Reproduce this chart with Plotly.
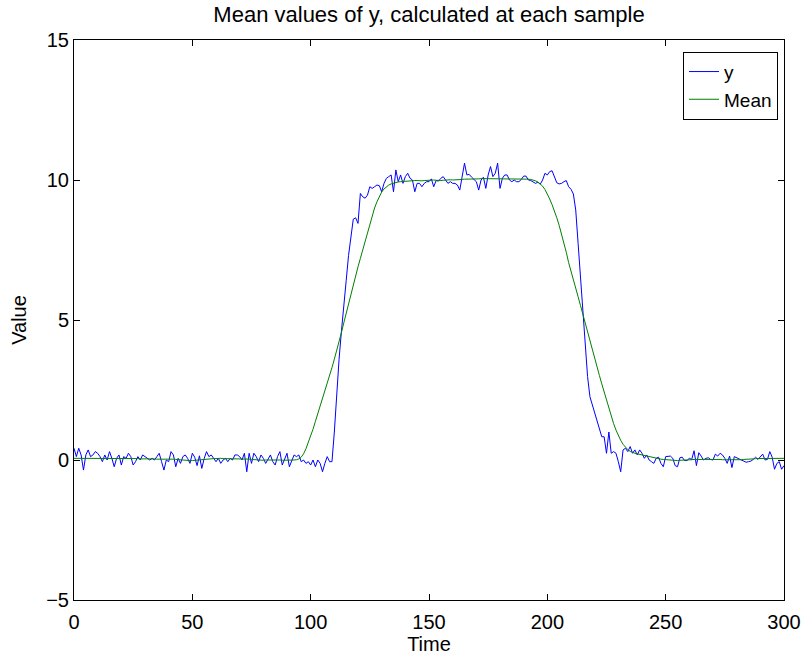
import plotly.graph_objects as go

# ---------------- data ----------------
time = list(range(301))

y_base_left = [
    0.42, 0.12, 0.42, 0.18, -0.36, 0.18, 0.36, 0.12, 0.18, 0.30,
    0.24, 0.12, -0.06, 0.18, 0.00, 0.30, 0.06, -0.24, 0.06, 0.18,
    -0.18, 0.12, 0.06, 0.24, 0.12, -0.18, -0.06, 0.12, 0.00, 0.18,
    0.12, 0.06, 0.00, 0.06, 0.00, 0.12, 0.24, -0.06, -0.36, 0.00,
    -0.06, 0.30, 0.18, -0.24, 0.06, -0.12, 0.12, 0.18, 0.06, -0.12,
    0.24, 0.10, -0.20, 0.15, -0.30, 0.05, 0.30, 0.12, 0.18, 0.06,
    -0.06, 0.06, -0.12, 0.00, 0.06, -0.06, 0.06, 0.00, 0.18, 0.18,
    0.12, 0.00, 0.24, -0.42, 0.24, -0.12, 0.24, 0.12, -0.06, 0.18,
    0.06, -0.12, 0.06, 0.18, -0.06, -0.18, 0.12, 0.30, -0.18, 0.00,
    0.24, -0.24, -0.06, 0.18, 0.12, 0.18, -0.06, 0.00, -0.12, -0.06,
    -0.18, 0.00, -0.24, 0.00, -0.12, -0.42, -0.12, 0.12, -0.06, -0.06,
]
y_rise = [1.0, 2.4, 3.6, 4.6, 5.4, 6.4, 7.3, 7.9, 8.6, 8.65, 8.45, 9.52, 9.4, 9.35, 9.46, 9.76]
y_top_a = [9.7, 9.76, 9.82, 9.8, 9.58, 9.88, 10.06, 10.12, 10.18, 9.58,
           10.36, 9.94, 10.18, 9.88, 10.12, 10.24, 10.06, 10.0, 9.58, 9.88,
           9.88, 9.76, 9.88, 9.94]
y_top_b = [
    9.94, 10.04, 9.76, 9.98, 9.96, 10.06, 10.12, 10.0, 9.88, 9.94,
    9.88, 9.88, 9.82, 9.64, 10.12, 10.6, 10.18, 10.2, 10.1, 10.02,
    9.94, 9.64, 10.0, 10.1, 9.7, 10.18, 10.48, 10.12, 10.24, 10.6,
    9.7, 10.06, 10.18, 10.18, 10.0, 9.94, 10.0, 9.94, 9.94, 10.02,
    10.14, 10.14, 10.0, 9.98, 9.94, 9.88, 9.92, 9.85, 10.0, 10.24,
    10.18, 10.3, 10.33, 10.12, 9.9, 9.86, 9.88, 9.94, 9.98, 9.76,
    9.67,
]
y_fall = [9.5, 8.93, 7.74, 6.55, 5.24, 4.05, 2.98, 2.26, 1.96, 1.67,
          1.37, 1.13, 0.83, 0.83, 0.24, 1.0, 0.24, 0.3, 0.24, -0.06,
          -0.42, 0.36, 0.42, 0.3, 0.48, 0.24, 0.36, 0.18, 0.36, 0.24,
          0.06, 0.18, 0.0, -0.06, -0.12, 0.06]
y_base_right = [
    0.1, -0.12, -0.24, 0.12, 0.12, 0.14, 0.06, -0.2, -0.24, 0.08,
    0.1, -0.02, -0.02, 0.06, 0.02, 0.33, -0.2, 0.26, 0.14, 0.0,
    0.06, 0.08, 0.02, 0.0, 0.21, 0.14, 0.24, 0.18, 0.06, -0.12,
    0.14, -0.27, 0.12, 0.08, 0.02, 0.0, -0.06, -0.08, -0.06, -0.04,
    0.02, 0.1, 0.02, 0.12, 0.21, 0.0, 0.02, 0.3, 0.1, -0.33,
    -0.12, -0.06, -0.33, -0.2,
]
y_values = y_base_left + y_rise + y_top_a + y_top_b + y_fall + y_base_right

mean_left = [
    0.06, 0.06, 0.05, 0.05, 0.06, 0.07, 0.07, 0.06, 0.06, 0.06,
    0.07, 0.07, 0.06, 0.06, 0.07, 0.06, 0.06, 0.05, 0.05, 0.06,
    0.06, 0.06, 0.07, 0.07, 0.06, 0.06, 0.05, 0.05, 0.04, 0.04,
    0.05, 0.05, 0.06, 0.05, 0.04, 0.03, 0.03, 0.04, 0.04, 0.05,
    0.05, 0.04, 0.03, 0.02, 0.01, 0.00, -0.01, -0.01, -0.02, -0.02,
    -0.02, -0.01, 0.00, 0.01, 0.02, 0.03, 0.03, 0.04, 0.04, 0.05,
    0.05, 0.06, 0.06, 0.05, 0.05, 0.04, 0.04, 0.03, 0.03, 0.04,
    0.04, 0.05, 0.05, 0.04, 0.03, 0.02, 0.01, 0.00, -0.01, -0.01,
    -0.01, 0.00, 0.00, 0.01, 0.01, 0.02, 0.01, 0.00, -0.01, -0.01,
    -0.02, -0.01, -0.01, 0.00, 0.01,
]
mean_rise = [0.04, 0.1, 0.22, 0.4, 0.62, 0.85, 1.1, 1.38, 1.65, 1.9,
             2.15, 2.42, 2.7, 2.98, 3.3, 3.6, 3.9, 4.2, 4.55, 4.9,
             5.25, 5.6, 5.95, 6.28, 6.6, 6.9, 7.2, 7.5, 7.85, 8.15,
             8.45, 8.75, 9.0, 9.22, 9.42, 9.57, 9.68, 9.76, 9.82, 9.86,
             9.89, 9.91, 9.93, 9.94, 9.95, 9.96]
mean_top = [
    9.96, 9.97, 9.97, 9.98, 9.98, 9.97, 9.97, 9.98, 9.99, 9.99,
    10.0, 10.0, 9.99, 9.98, 9.98, 9.99, 10.0, 10.01, 10.01, 10.0,
    10.0, 10.01, 10.02, 10.02, 10.03, 10.03, 10.02, 10.02, 10.03, 10.04,
    10.04, 10.05, 10.05, 10.04, 10.04, 10.05, 10.05, 10.04, 10.03, 10.03,
    10.04, 10.04, 10.03, 10.03, 10.04, 10.04, 10.05, 10.05, 10.05, 10.04,
    10.04, 10.03, 10.02, 10.0,
]
mean_fall = [9.97, 9.93, 9.87, 9.78, 9.66, 9.5, 9.32, 9.12, 8.9, 8.65,
             8.38, 8.08, 7.75, 7.42, 7.05, 6.72, 6.42, 6.12, 5.83, 5.52,
             5.2, 4.88, 4.55, 4.22, 3.9, 3.6, 3.32, 3.02, 2.72, 2.42,
             2.12, 1.82, 1.55, 1.3, 1.07, 0.87, 0.7, 0.56, 0.45, 0.37,
             0.31, 0.27, 0.24, 0.22, 0.2, 0.18, 0.15, 0.13, 0.11, 0.09,
             0.07, 0.05]
mean_right = [
    0.04, 0.03, 0.02, 0.01, 0.0, -0.01, -0.01, -0.02, -0.02, -0.01,
    -0.01, 0.0, 0.0, 0.01, 0.01, 0.02, 0.02, 0.02, 0.03, 0.03,
    0.03, 0.04, 0.04, 0.03, 0.03, 0.02, 0.02, 0.01, 0.01, 0.0,
    0.0, -0.01, -0.01, 0.0, 0.0, 0.01, 0.02, 0.02, 0.03, 0.04,
    0.04, 0.05, 0.05, 0.05, 0.04, 0.04, 0.05, 0.05, 0.06, 0.05,
    0.05, 0.05, 0.06, 0.06,
]
mean_values = mean_left + mean_rise + mean_top + mean_fall + mean_right

x_ticks = [0, 50, 100, 150, 200, 250, 300]
y_ticks = [-5, 0, 5, 10, 15]

# ---------------- figure ----------------
FONT = "Liberation Sans, Arial, Helvetica, sans-serif"

fig = go.Figure()
fig.add_trace(go.Scatter(x=time, y=y_values, mode="lines", name="y",
                         line=dict(color="rgb(0,0,255)", width=1)))
fig.add_trace(go.Scatter(x=time, y=mean_values, mode="lines", name="Mean",
                         line=dict(color="rgb(0,128,0)", width=1)))

axis_common = dict(
    showline=True, linecolor="black", linewidth=1, mirror="ticks",
    ticks="inside", ticklen=6, tickwidth=1, tickcolor="black",
    showgrid=False, zeroline=False, automargin=False,
    tickfont=dict(family=FONT, size=20, color="black"),
)

fig.update_layout(
    width=805, height=658,
    paper_bgcolor="white", plot_bgcolor="white",
    margin=dict(l=74, r=21, t=40, b=58, autoexpand=False),
    title=dict(text="Mean values of y, calculated at each sample",
               x=(74 + 784) / 2 / 805, xanchor="center",
               y=1 - 14 / 658, yanchor="middle", yref="container",
               font=dict(family=FONT, size=22, color="black")),
    xaxis=dict(range=[0, 300], tickvals=x_ticks, ticklabelstandoff=4,
               title=dict(text="Time", font=dict(family=FONT, size=20, color="black"), standoff=4),
               **axis_common),
    yaxis=dict(range=[-5, 15], tickvals=y_ticks,
               title=dict(text="Value", font=dict(family=FONT, size=20, color="black"), standoff=14),
               **axis_common),
    legend=dict(x=(778 - 74) / 710, xanchor="right",
                y=1 - (51.7 - 40) / 560, yanchor="top",
                bgcolor="white", bordercolor="black", borderwidth=1,
                font=dict(family=FONT, size=19, color="black"),
                tracegroupgap=0),
    showlegend=True,
)

fig.write_html("out.html")
